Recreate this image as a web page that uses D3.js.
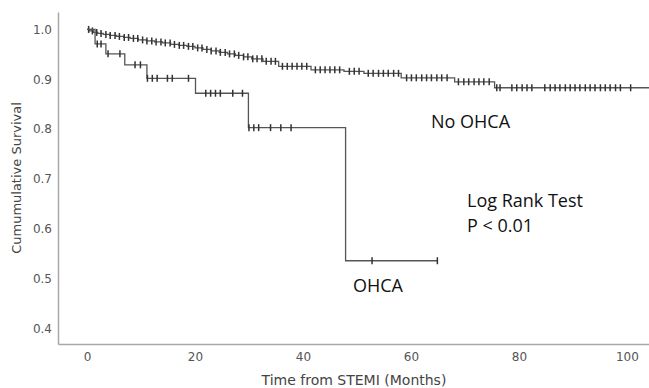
<!DOCTYPE html>
<html>
<head>
<meta charset="utf-8">
<script src="https://cdn.jsdelivr.net/npm/d3@7"></script>
<style>
  body { margin: 0; background: #fff; }
  svg { display: block; }
</style>
</head>
<body>
<figure id="km" style="margin:0"></figure>
<script>
// y axis / x axis ticks
const yTicks = [0.4, 0.5, 0.6, 0.7, 0.8, 0.9, 1.0];
const xTicks = [0, 20, 40, 60, 80, 100];

// No OHCA group: event times (months) and survival after each step
const noOhcaTimes = [0.5, 1.2, 2.0, 3.0, 4.2, 5.5, 6.8, 8.0, 9.5, 11.0, 12.5, 14.0, 15.5, 17.0, 18.5, 20.0,
  21.5, 23.0, 24.5, 26.0, 27.5, 29.0, 30.5, 32.6, 35.5, 41.5, 47.6, 51.3, 58.2, 68.1, 75.5];
const noOhcaSurv = [0.997, 0.994, 0.992, 0.990, 0.988, 0.986, 0.984, 0.982, 0.979, 0.977, 0.975, 0.973, 0.970, 0.968, 0.966, 0.963,
  0.960, 0.957, 0.954, 0.951, 0.948, 0.945, 0.941, 0.936, 0.926, 0.919, 0.916, 0.912, 0.903, 0.895, 0.883];
const noOhcaEnd = 104.5;
const noOhcaCensor = [0.3, 1.0, 1.8, 2.6, 3.5, 4.3, 5.2, 6.0, 6.9, 7.7, 8.6, 9.4, 10.3, 11.1, 12.0, 12.8, 13.7, 14.5,
  15.4, 16.2, 17.1, 17.9, 18.8, 19.6, 20.5, 21.3, 22.2, 23.0, 23.9, 24.7, 25.6, 26.4, 27.3, 28.1, 29.0, 29.8,
  30.7, 31.5, 32.4, 33.2, 34.1, 34.9, 36.2, 37.1, 38.0, 38.9, 39.8, 40.7, 42.3, 43.2, 44.1, 45.0, 45.9, 46.8,
  48.6, 49.5, 50.4, 52.1, 53.0, 54.0, 54.9, 55.8, 56.8, 57.7, 59.2, 60.1, 61.0, 62.0, 62.9, 63.8, 64.8, 65.7,
  66.7, 68.8, 69.8, 70.7, 71.7, 72.6, 73.5, 74.5, 75.9, 76.5, 78.7, 79.6, 80.6, 81.5, 82.4, 84.8, 85.8, 86.7,
  87.6, 88.6, 89.5, 90.4, 91.3, 92.3, 93.2, 94.1, 95.1, 96.0, 96.9, 97.9, 98.8, 100.7];

// OHCA group
const ohcaTimes = [1.5, 3.5, 7.0, 11.1, 20.1, 29.9, 47.9];
const ohcaSurv = [0.971, 0.951, 0.929, 0.902, 0.872, 0.803, 0.536];
const ohcaEnd = 64.9;
const ohcaCensor = [1.9, 2.6, 3.9, 6.1, 8.9, 9.9, 11.2, 12.1, 13.0, 14.9, 15.8, 18.8, 22.0, 22.9, 23.8, 24.7, 27.0, 28.8,
  30.0, 30.9, 31.8, 34.0, 35.9, 37.8, 52.8, 64.9];

const W = 649, H = 388;
const margin = { top: 12, right: 0, bottom: 44, left: 58 };
const width = W - margin.left - margin.right;
const height = H - margin.top - margin.bottom;

const svg = d3.select('figure#km')
  .append('svg')
  .attr('width', W)
  .attr('height', H)
  .append('g')
  .attr('transform', 'translate(' + margin.left + ',' + margin.top + ')');

const x = d3.scaleLinear().domain([-5.37, 104.1]).range([0, width]);
const y = d3.scaleLinear().domain([0.369, 1.035]).range([height, 0]);

// axes (no tick marks, grey lines)
const yAxis = svg.append('g')
  .call(d3.axisLeft(y).tickValues(yTicks).tickFormat(d3.format('.1f')).tickSize(0).tickPadding(6));
const xAxis = svg.append('g')
  .attr('transform', 'translate(0,' + height + ')')
  .call(d3.axisBottom(x).tickValues(xTicks).tickFormat(d3.format('d')).tickSize(0).tickPadding(8));
[xAxis, yAxis].forEach(a => {
  a.select('.domain').attr('stroke', '#a8a8a8').attr('stroke-width', 1.5);
  a.selectAll('text')
    .style('font-family', '"DejaVu Sans", sans-serif')
    .style('font-size', '12px')
    .attr('fill', '#555');
});

// build step points
function steps(times, surv, end) {
  const pts = [[0, 1]];
  times.forEach((t, i) => pts.push([t, surv[i]]));
  pts.push([end, surv[surv.length - 1]]);
  return pts;
}
function survAt(times, surv, t) {
  let s = 1;
  times.forEach((tt, i) => { if (tt <= t) s = surv[i]; });
  return s;
}

const line = d3.line()
  .x((d) => x(d[0]))
  .y((d) => y(d[1]))
  .curve(d3.curveStepAfter);

const groups = [
  { key: 'noOhca', times: noOhcaTimes, surv: noOhcaSurv, end: noOhcaEnd, censor: noOhcaCensor },
  { key: 'ohca', times: ohcaTimes, surv: ohcaSurv, end: ohcaEnd, censor: ohcaCensor },
];

groups.forEach(g => {
  svg.append('path')
    .datum(steps(g.times, g.surv, g.end))
    .attr('d', line)
    .attr('fill', 'none')
    .attr('stroke', '#555')
    .attr('stroke-width', 1.3);

  // censor marks ("+")
  svg.selectAll('censor-' + g.key)
    .data(g.censor)
    .enter()
    .append('line')
    .attr('x1', (d) => x(d))
    .attr('x2', (d) => x(d))
    .attr('y1', (d) => y(survAt(g.times, g.surv, d)) - 3.5)
    .attr('y2', (d) => y(survAt(g.times, g.surv, d)) + 3.5)
    .attr('stroke', '#333')
    .attr('stroke-width', 1.5);
});

// axis titles
svg.append('text')
  .attr('transform', 'rotate(-90)')
  .attr('x', -(178 - margin.top))
  .attr('y', 21 - margin.left)
  .attr('text-anchor', 'middle')
  .style('font-family', '"DejaVu Sans", sans-serif')
  .style('font-size', '13px')
  .attr('fill', '#444')
  .text('Cumumulative Survival');

svg.append('text')
  .attr('x', 354 - margin.left)
  .attr('y', 385 - margin.top)
  .attr('text-anchor', 'middle')
  .style('font-family', '"DejaVu Sans", sans-serif')
  .style('font-size', '14px')
  .attr('fill', '#444')
  .text('Time from STEMI (Months)');

// annotations
const notes = [
  { text: 'No OHCA', x: 431, y: 128 },
  { text: 'Log Rank Test', x: 467, y: 207 },
  { text: 'P < 0.01', x: 467, y: 232 },
  { text: 'OHCA', x: 353, y: 292 },
];
svg.selectAll('notes')
  .data(notes)
  .enter()
  .append('text')
  .attr('x', (d) => d.x - margin.left)
  .attr('y', (d) => d.y - margin.top)
  .style('font-family', '"Open Sans", sans-serif')
  .style('font-size', '18px')
  .attr('fill', '#111')
  .text((d) => d.text);
</script>
</body>
</html>
